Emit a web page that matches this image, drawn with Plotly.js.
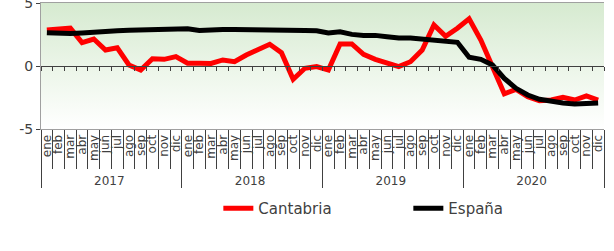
<!DOCTYPE html>
<html><head><meta charset="utf-8">
<script src="https://cdn.plot.ly/plotly-3.0.1.min.js"></script>
<style>html,body{margin:0;padding:0;background:#fff}#c{width:614px;height:251px}</style>
</head><body><div id="c"></div>
<script>
const years = ['2017','2018','2019','2020'];
const months = ['ene','feb','mar','abr','may','jun','jul','ago','sep','oct','nov','dic'];
const cantabria = [2.86,2.96,3.0,1.85,2.14,1.27,1.45,0.08,-0.32,0.58,0.53,0.74,
  0.22,0.21,0.2,0.48,0.34,0.87,1.32,1.72,1.06,-1.05,-0.18,-0.05,
  -0.32,1.75,1.75,0.93,0.53,0.26,-0.05,0.34,1.27,3.25,2.35,3.0,
  3.75,2.06,0.0,-2.2,-1.85,-2.43,-2.75,-2.7,-2.48,-2.7,-2.38,-2.7];
const espana = [2.64,2.59,2.57,2.62,2.7,2.75,2.8,2.83,2.85,2.85,2.85,2.86,
  2.96,2.82,2.9,2.9,2.9,2.9,2.9,2.9,2.88,2.82,2.82,2.8,
  2.62,2.72,2.51,2.43,2.43,2.33,2.22,2.22,2.14,2.12,1.98,1.88,
  0.69,0.53,0.08,-0.98,-1.77,-2.3,-2.64,-2.83,-2.94,-3.02,-2.94,-2.94];
const yTicks = [-5,0,5];

const xOuter = [], xInner = [];
years.forEach(y => months.forEach(m => { xOuter.push(y); xInner.push(m); }));
const bounds = [];
for (let i = 0; i <= xInner.length; i++) bounds.push(i - 0.5);

const grad = 'data:image/svg+xml;utf8,' + encodeURIComponent(
 '<svg xmlns="http://www.w3.org/2000/svg" width="10" height="100" preserveAspectRatio="none">' +
 '<defs><linearGradient id="g" x1="0" y1="0" x2="0" y2="1">' +
 '<stop offset="0" stop-color="#d6ead0"/><stop offset="0.5" stop-color="#ebf5e8"/><stop offset="1" stop-color="#ffffff"/>' +
 '</linearGradient></defs><rect width="10" height="100" fill="url(#g)"/></svg>');

const font = 'DejaVu Sans, sans-serif';
const data = [
  {x:[xOuter,xInner], y:cantabria, name:'Cantabria', type:'scatter', mode:'lines',
   line:{color:'#ff0000', width:5}},
  {x:[xOuter,xInner], y:espana, name:'España', type:'scatter', mode:'lines',
   line:{color:'#000000', width:5}},
  {x:[0], y:[null], xaxis:'x2', type:'scatter', mode:'lines', showlegend:false, hoverinfo:'skip'}
];
const layout = {
  width:614, height:251,
  margin:{l:41, r:10, t:3, b:122},
  paper_bgcolor:'#ffffff', plot_bgcolor:'rgba(0,0,0,0)',
  font:{family:font, color:'#404040', size:12},
  showlegend:true,
  legend:{orientation:'h', x:0.315, xanchor:'left', y:-0.5, yanchor:'top',
          font:{size:15, color:'#404040'}, entrywidth:145, traceorder:'normal'},
  xaxis:{type:'multicategory', showline:true, linecolor:'#a0a0a0', linewidth:1,
         mirror:true, ticks:'outside', tickson:'boundaries', ticklen:39, tickcolor:'#404040',
         tickmode:'linear', tick0:0, dtick:1,
         tickangle:-90, tickfont:{size:12, color:'#404040'},
         showdividers:true, dividercolor:'#404040', dividerwidth:1,
         showgrid:false, zeroline:false, range:[-0.5,47.5]},
  xaxis2:{overlaying:'x', anchor:'free', position:0.5, range:[-0.5,47.5],
          showline:true, linecolor:'#404040', linewidth:1, ticks:'outside', ticklen:4,
          tickcolor:'#404040', tickvals:bounds, showticklabels:false, showgrid:false, zeroline:false},
  yaxis:{range:[-5,5], tickvals:yTicks, ticktext:yTicks.map(String), showline:true,
         linecolor:'#a0a0a0', linewidth:1, ticks:'outside', ticklen:4, tickcolor:'#404040',
         ticklabeloverflow:'allow',
         tickfont:{size:14, color:'#404040'}, showgrid:false, zeroline:false},
  images:[{source:grad, xref:'paper', yref:'paper', x:0, y:1, sizex:1, sizey:1,
           sizing:'stretch', layer:'below', xanchor:'left', yanchor:'top'}]
};
Plotly.newPlot('c', data, layout, {staticPlot:true, displayModeBar:false});
</script></body></html>
